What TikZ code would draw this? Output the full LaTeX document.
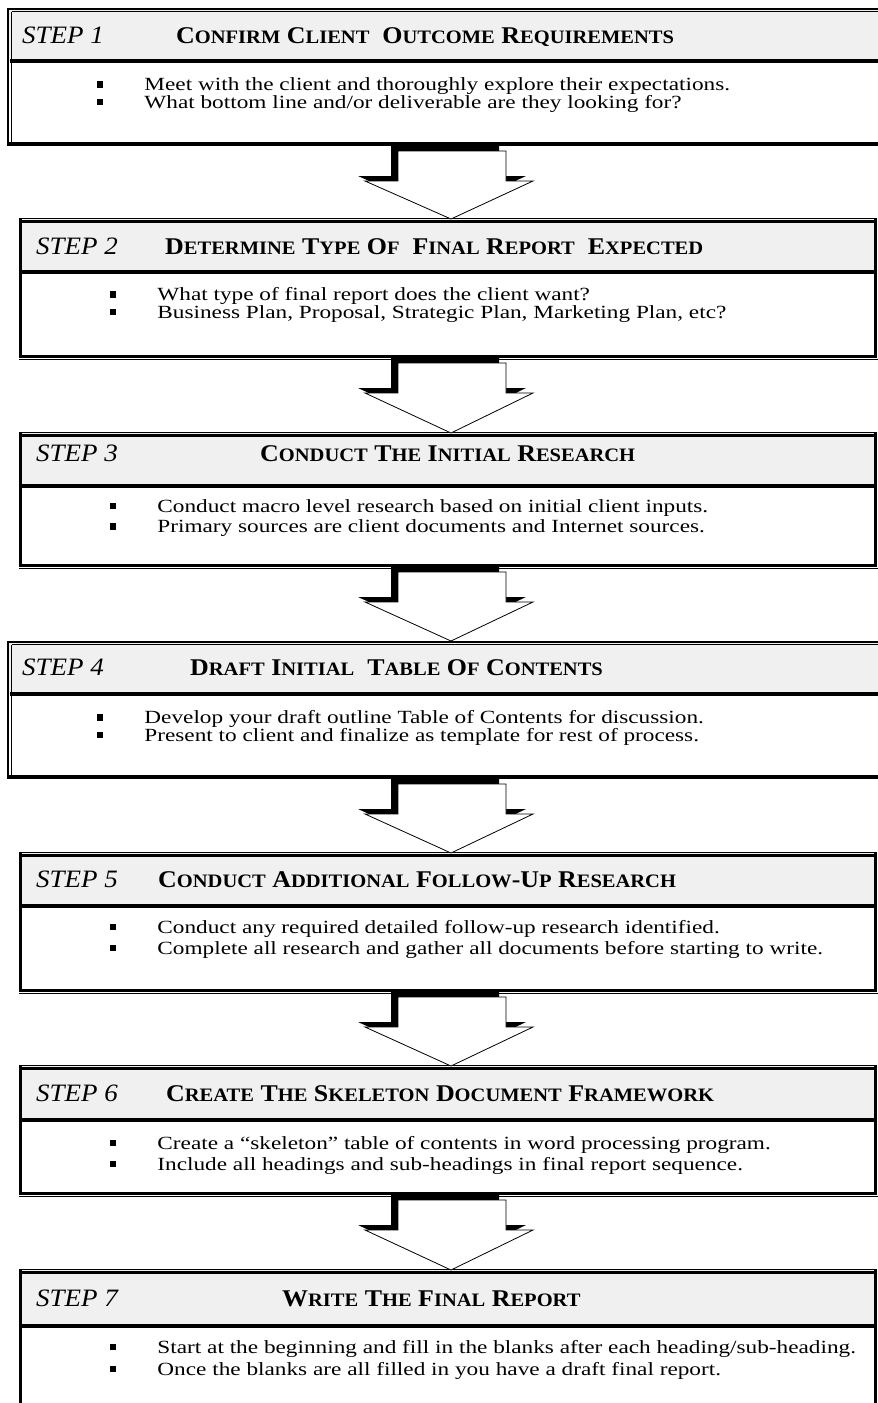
\documentclass[tikz,border=0pt]{standalone}
\usepackage{fontspec}
\setmainfont{Liberation Serif}
\newfontfamily\bodyfont[FakeStretch=1.25]{Liberation Serif}
\newfontfamily\headfont[FakeStretch=1.08]{Liberation Serif}
\definecolor{hdr}{HTML}{F0F0F0}
\newcommand\SC[2]{{\fontsize{24}{24}\selectfont #1}{\fontsize{19}{19}\selectfont #2}}
\newcommand\Blt{\makebox[47.5pt][l]{\rule[2.75pt]{6.5pt}{6.5pt}}}
\newcommand\TwoLines[3]{\vtop{\baselineskip=#1\lineskiplimit=-\maxdimen\hbox{\Blt #2}\hbox{\Blt #3}}}
\newcommand\BoxA[3]{%
 \fill[hdr] (9,#1) rectangle (880,#2);
 \draw[line width=2.2pt] (7,{#1+1}) -- (880,{#1+1});
 \draw[line width=0.9pt] (11.5,{#1+3.8}) -- (880,{#1+3.8});
 \draw[line width=2.2pt] (8,#1) -- (8,#3);
 \draw[line width=0.9pt] (11.5,{#1+3.8}) -- (11.5,#3);
 \draw[line width=3.5pt] (10,#2) -- (880,#2);
 \draw[line width=3.5pt] (7,#3) -- (880,#3);
}
\newcommand\BoxB[3]{%
 \fill[hdr] (21,#1) rectangle (875,#2);
 \draw[line width=0.9pt] (19,{#1-0.5}) -- (877,{#1-0.5});
 \draw[line width=2.5pt] (19,{#1+2.3}) -- (876.5,{#1+2.3});
 \draw[line width=3pt] (20.5,#1) -- (20.5,{#3+1.5});
 \draw[line width=3pt] (875,#1) -- (875,{#3+1.5});
 \draw[line width=3.5pt] (21,#2) -- (875,#2);
 \draw[line width=3pt] (19,#3) -- (876.5,#3);
 \draw[line width=0.9pt] (19,{#3+3.5}) -- (878,{#3+3.5});
}
\newcommand\DArrow[2]{%
 \pgfmathsetmacro\ya{#1+7}\pgfmathsetmacro\yb{#1+37}%
 \fill[black,shift={(-7,-5)}] (398,\ya) -- (506,\ya) -- (506,\yb) -- (533,\yb) -- (451,#2) -- (365,\yb) -- (398,\yb) -- cycle;
 \draw[fill=white,line width=0.8pt] (398,\ya) -- (506,\ya) -- (506,\yb) -- (533,\yb) -- (451,#2) -- (365,\yb) -- (398,\yb) -- cycle;
}
\tikzset{
 steplbl/.style={anchor=base west,inner sep=0pt,font=\headfont\itshape\fontsize{25}{25}\selectfont},
 ttl/.style={anchor=base west,inner sep=0pt,font=\headfont\bfseries\fontsize{24}{24}\selectfont},
 txt/.style={anchor=base west,inner sep=0pt,font=\bodyfont\fontsize{18.6}{18.6}\selectfont},
}
\begin{document}
\begin{tikzpicture}[x=1pt,y=-1pt]
\useasboundingbox (0,0) rectangle (878,1403);
\clip (0,0) rectangle (878,1403);
\fill[white] (0,0) rectangle (878,1403);

% boxes
\BoxA{8}{61}{144}
\BoxB{219}{272}{356}
\BoxB{433}{486}{565}
\BoxA{641}{694}{777}
\BoxB{853}{906}{990}
\BoxB{1066}{1120}{1193}
\BoxB{1270}{1326}{1425}

% arrows between steps
\DArrow{144}{219}
\DArrow{356}{433}
\DArrow{565}{641}
\DArrow{777}{853}
\DArrow{990}{1066}
\DArrow{1193}{1270}

% step 1
\node[steplbl] (s1) at (22,43) {STEP 1};
\node[ttl] (t1) at (176,43) {\SC{C}{ONFIRM} \SC{C}{LIENT}\ \ \SC{O}{UTCOME} \SC{R}{EQUIREMENTS}};
\node[txt] (x1) at (96.75,90.5) {\TwoLines{17.5pt}{Meet with the client and thoroughly explore their expectations.}{What bottom line and/or deliverable are they looking for?}};

% step 2
\node[steplbl] (s2) at (36,254) {STEP 2};
\node[ttl] (t2) at (165,254) {\SC{D}{ETERMINE} \SC{T}{YPE} \SC{O}{F}\ \ \SC{F}{INAL} \SC{R}{EPORT}\ \ \SC{E}{XPECTED}};
\node[txt] (x2) at (109.75,300.5) {\TwoLines{17.5pt}{What type of final report does the client want?}{Business Plan, Proposal, Strategic Plan, Marketing Plan, etc?}};

% step 3
\node[steplbl] (s3) at (36,461) {STEP 3};
\node[ttl] (t3) at (260,461) {\SC{C}{ONDUCT} \SC{T}{HE} \SC{I}{NITIAL} \SC{R}{ESEARCH}};
\node[txt] (x3) at (109.75,512) {\TwoLines{20.5pt}{Conduct macro level research based on initial client inputs.}{Primary sources are client documents and Internet sources.}};

% step 4
\node[steplbl] (s4) at (22,675) {STEP 4};
\node[ttl] (t4) at (190,675) {\SC{D}{RAFT} \SC{I}{NITIAL}\ \ \SC{T}{ABLE} \SC{O}{F} \SC{C}{ONTENTS}};
\node[txt] (x4) at (96.75,723.5) {\TwoLines{17.5pt}{Develop your draft outline Table of Contents for discussion.}{Present to client and finalize as template for rest of process.}};

% step 5
\node[steplbl] (s5) at (36,887) {STEP 5};
\node[ttl] (t5) at (158,887) {\SC{C}{ONDUCT} \SC{A}{DDITIONAL} \SC{F}{OLLOW}-\SC{U}{P} \SC{R}{ESEARCH}};
\node[txt] (x5) at (109.75,933) {\TwoLines{21pt}{Conduct any required detailed follow-up research identified.}{Complete all research and gather all documents before starting to write.}};

% step 6
\node[steplbl] (s6) at (36,1101) {STEP 6};
\node[ttl] (t6) at (166,1101) {\SC{C}{REATE} \SC{T}{HE} \SC{S}{KELETON} \SC{D}{OCUMENT} \SC{F}{RAMEWORK}};
\node[txt] (x6) at (109.75,1149) {\TwoLines{21pt}{Create a “skeleton” table of contents in word processing program.}{Include all headings and sub-headings in final report sequence.}};

% step 7
\node[steplbl] (s7) at (36,1306) {STEP 7};
\node[ttl] (t7) at (282,1306) {\SC{W}{RITE} \SC{T}{HE} \SC{F}{INAL} \SC{R}{EPORT}};
\node[txt] (x7) at (109.75,1353) {\TwoLines{22pt}{Start at the beginning and fill in the blanks after each heading/sub-heading.}{Once the blanks are all filled in you have a draft final report.}};
\end{tikzpicture}
\end{document}
